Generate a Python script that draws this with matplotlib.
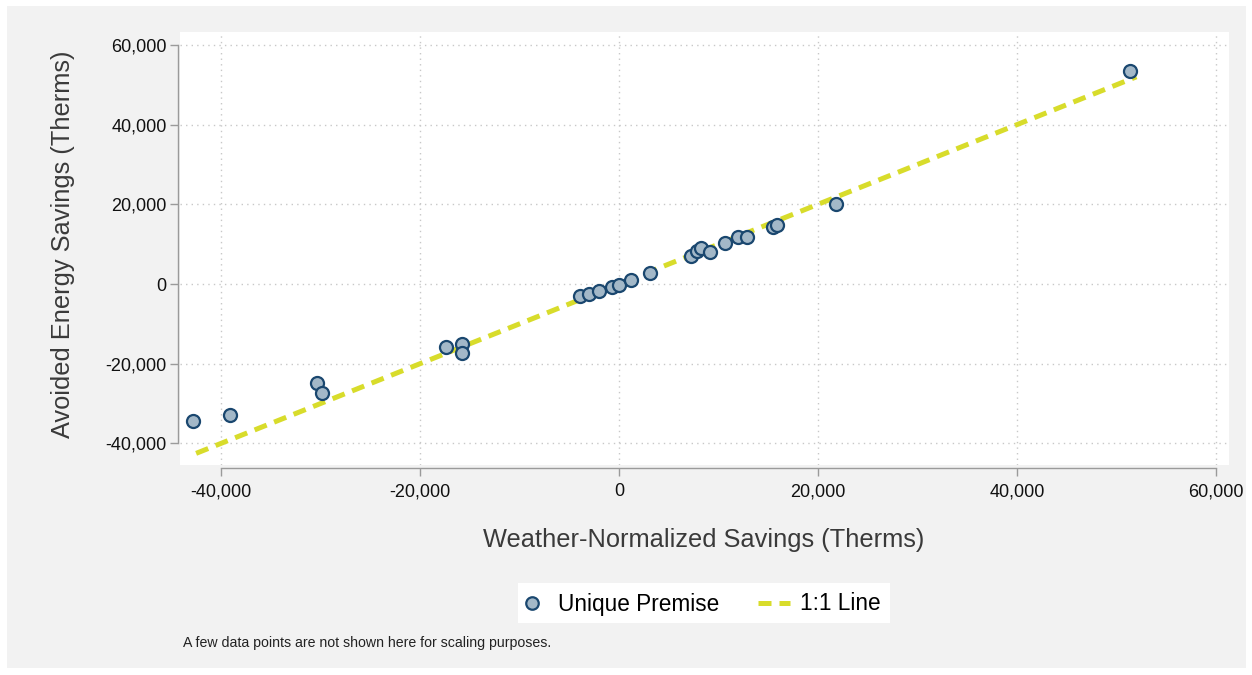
import matplotlib
matplotlib.use("Agg")
import matplotlib.pyplot as plt
from matplotlib.patches import Rectangle
from matplotlib.lines import Line2D
from matplotlib.ticker import FuncFormatter

plt.rcParams['font.family'] = ['Liberation Sans', 'DejaVu Sans']

# Weather-normalized savings vs. avoided energy savings per premise (therms)
weather_normalized = [-42800, -39100, -30350, -29850, -17390, -15780, -15780,
                      -3920, -3010, -2010, -700, 0, 1200, 3115,
                      7240, 7840, 8240, 9150, 10650, 11960, 12860, 15480, 15880,
                      21800, 51350]
avoided_savings = [-34400, -32900, -24850, -27350, -15800, -15060, -17300,
                   -3010, -2510, -1760, -750, -250, 1000, 2760,
                   7030, 8280, 9030, 8030, 10290, 11800, 11800, 14300, 14800,
                   20080, 53450]

# Extent of the 1:1 reference line
line_extent = [-42500, 52000]

x_ticks = [-40000, -20000, 0, 20000, 40000, 60000]
y_ticks = [-40000, -20000, 0, 20000, 40000, 60000]

W, H = 1252, 675
fig = plt.figure(figsize=(W / 100, H / 100), dpi=100, facecolor='white')

# light gray graph region
fig.patches.append(Rectangle((7 / W, 7 / H), (1246 - 7) / W, (669 - 7) / H,
                             transform=fig.transFigure, facecolor='#f2f2f2',
                             edgecolor='none', zorder=-10))
# white legend box
fig.patches.append(Rectangle((518 / W, 1 - 623 / H), (890 - 518) / W,
                             (623 - 583) / H, transform=fig.transFigure,
                             facecolor='white', edgecolor='none', zorder=-5))

ax = fig.add_axes([180 / W, (H - 465) / H, (1229 - 180) / W, (465 - 32) / H])
ax.set_zorder(2)
ax.set_facecolor('white')

marker_fill = '#a3b8c8'
marker_edge = '#1a476f'
line_color = '#d8dc2b'

ax.plot(line_extent, line_extent, color=line_color, lw=3.6,
        linestyle=(0, (2.6, 1.6)), dash_capstyle='butt', zorder=2)
ax.scatter(weather_normalized, avoided_savings, s=88, facecolor=marker_fill,
           edgecolor=marker_edge, linewidth=1.6, zorder=3)

ax.set_xlim(-44120, 61300)
ax.set_ylim(-45420, 63240)
ax.set_xticks(x_ticks)
ax.set_yticks(y_ticks)
fmt = FuncFormatter(lambda v, p: f"{int(v):,}")
ax.xaxis.set_major_formatter(fmt)
ax.yaxis.set_major_formatter(fmt)

ax.grid(True, color='#c8c8c8', linestyle=(0, (1, 3)), linewidth=1.0, zorder=1)
ax.set_axisbelow(True)

for side in ['top', 'right']:
    ax.spines[side].set_visible(False)
ax.spines['left'].set_position(('outward', 1.5))
ax.spines['bottom'].set_position(('outward', 2.2))
ax.spines['left'].set_bounds(-40000, 60000)
ax.spines['bottom'].set_bounds(-40000, 60000)
for side in ['left', 'bottom']:
    ax.spines[side].set_color('#9a9a9a')
    ax.spines[side].set_linewidth(1.0)

ax.tick_params(axis='both', direction='out', length=6, width=1.0,
               color='#9a9a9a', labelsize=13, labelcolor='#111111')
ax.tick_params(axis='y', pad=2)
ax.tick_params(axis='x', pad=5)

fig.text(63 / W, 1 - 244 / H, 'Avoided Energy Savings (Therms)', rotation=90,
         ha='center', va='center', fontsize=18.3, color='#3a3a3a')
fig.text(704 / W, 1 - 540 / H, 'Weather-Normalized Savings (Therms)',
         ha='center', va='center', fontsize=18.3, color='#3a3a3a')

handles = [
    Line2D([], [], linestyle='none', marker='o', markersize=9,
           markerfacecolor=marker_fill, markeredgecolor=marker_edge,
           markeredgewidth=1.6),
    Line2D([], [], color=line_color, lw=3.6, linestyle=(0, (2.6, 1.6))),
]
leg = fig.legend(handles, ['Unique Premise', '1:1 Line'], loc='center left',
                 bbox_to_anchor=(516 / W, 1 - 604 / H), ncol=2, frameon=False,
                 fontsize=16.3, handlelength=1.4, handletextpad=0.45,
                 columnspacing=1.72, borderpad=0.0, borderaxespad=0.0)

fig.text(183 / W, 1 - 643 / H,
         'A few data points are not shown here for scaling purposes.',
         ha='left', va='center', fontsize=10.2, color='#222222')

fig.savefig('out.png', dpi=100, facecolor='white')
